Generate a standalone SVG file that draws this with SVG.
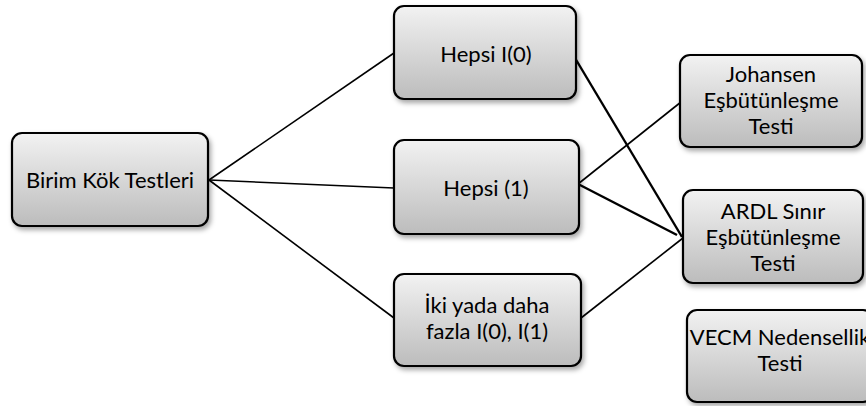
<svg xmlns="http://www.w3.org/2000/svg" width="866" height="406" viewBox="0 0 866 406">
<defs>
<linearGradient id="g" x1="0" y1="0" x2="0" y2="1">
<stop offset="0" stop-color="#f2f2f2"/>
<stop offset="1" stop-color="#bcbcbc"/>
</linearGradient>
<filter id="sh" x="-10%" y="-10%" width="130%" height="130%">
<feDropShadow dx="2" dy="3" stdDeviation="2.5" flood-color="#000" flood-opacity="0.35"/>
</filter>
</defs>
<style>
.box{fill:url(#g);stroke:#000;stroke-width:2.2;filter:url(#sh)}
.t{font-family:Lato,"Open Sans","Liberation Sans",sans-serif;font-size:22px;fill:#000;text-anchor:middle}
.c{stroke:#000;stroke-width:1.6;fill:none}
.ck{stroke:#000;stroke-width:2.4;fill:none}
</style>
<rect width="866" height="406" fill="#fff"/>
<g id="connectors">
<line class="c" x1="209" y1="180" x2="394" y2="53"/>
<line class="c" x1="209" y1="180" x2="394" y2="188"/>
<line class="c" x1="209" y1="180" x2="394" y2="318"/>
<line class="ck" x1="575" y1="58" x2="682" y2="237"/>
<line class="c" x1="578" y1="184" x2="681" y2="102"/>
<line class="ck" x1="578" y1="184" x2="677" y2="235"/>
<line class="c" x1="581" y1="318" x2="683" y2="238"/>
</g>
<g id="birim">
<rect class="box" x="12" y="133" width="196" height="93" rx="10"/>
<text class="t" x="110" y="188">Birim  Kök Testleri</text>
</g>
<g id="hepsi0">
<rect class="box" x="394" y="6" width="182" height="93" rx="10"/>
<text class="t" x="486" y="62">Hepsi I(0)</text>
</g>
<g id="hepsi1">
<rect class="box" x="394" y="140" width="185" height="94" rx="10"/>
<text class="t" x="486" y="196">Hepsi (1)</text>
</g>
<g id="iki">
<rect class="box" x="394" y="274" width="187" height="92" rx="10"/>
<text class="t" x="487" y="313">İki yada daha</text>
<text class="t" x="487" y="339">fazla I(0), I(1)</text>
</g>
<g id="johansen">
<rect class="box" x="680" y="55" width="182" height="92" rx="10"/>
<text class="t" x="771" y="82">Johansen</text>
<text class="t" x="771" y="108">Eşbütünleşme</text>
<text class="t" x="771" y="134">Testi</text>
</g>
<g id="ardl">
<rect class="box" x="683" y="190" width="180" height="93" rx="10"/>
<text class="t" x="773" y="219">ARDL Sınır</text>
<text class="t" x="773" y="245">Eşbütünleşme</text>
<text class="t" x="773" y="271">Testi</text>
</g>
<g id="vecm">
<rect class="box" x="687" y="310" width="186" height="92" rx="10"/>
<text class="t" x="780" y="345">VECM Nedensellik</text>
<text class="t" x="780" y="371">Testi</text>
</g>
</svg>
